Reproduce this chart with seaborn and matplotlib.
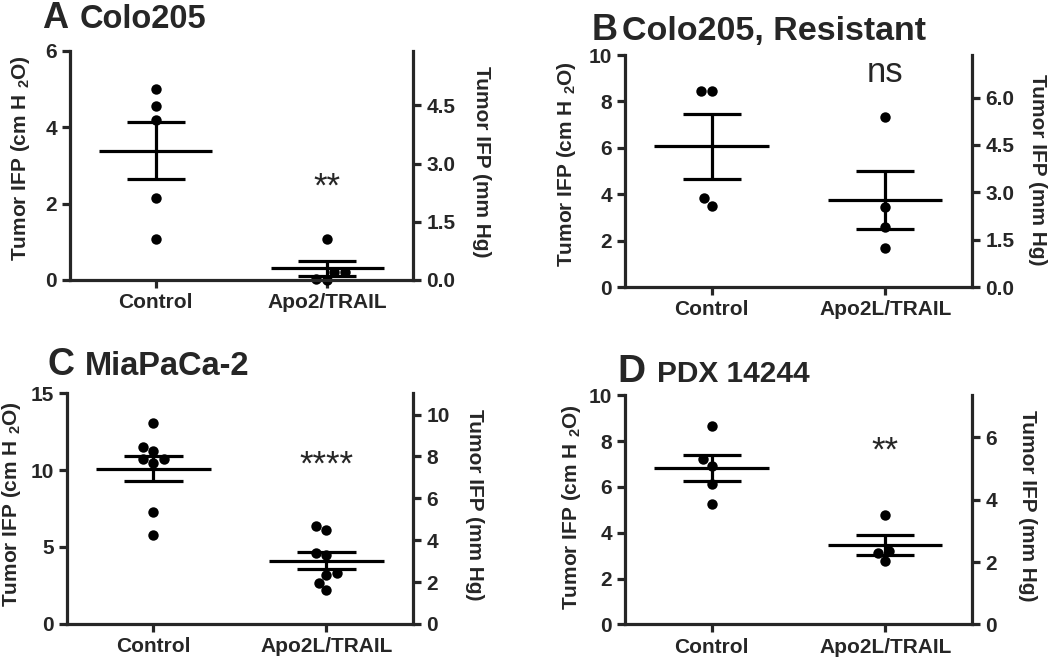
import numpy as np
import pandas as pd
import matplotlib
matplotlib.use("Agg")
import matplotlib.pyplot as plt
import seaborn as sns

# values, tumor IFP in cm H2O
a_control = [5.00, 4.55, 4.19, 2.15, 1.07]
a_treated = [1.07, 0.22, 0.22, 0.02, 0.00]
b_control = [8.46, 8.46, 3.50, 3.82]
b_treated = [7.34, 3.46, 2.60, 1.67]
c_control = [13.03, 11.52, 11.25, 10.69, 10.47, 10.69, 7.29, 5.80]
c_treated = [6.36, 6.10, 4.48, 4.60, 3.29, 3.18, 2.68, 2.20]
d_control = [8.66, 7.20, 6.91, 6.13, 5.24]
d_treated = [4.77, 3.21, 3.13, 2.78]

letters = ["A", "B", "C", "D"]
titles = ["Colo205", "Colo205, Resistant", "MiaPaCa-2", "PDX 14244"]
treat_names = ["Apo2/TRAIL", "Apo2L/TRAIL", "Apo2L/TRAIL", "Apo2L/TRAIL"]
signif = ["**", "ns", "****", "**"]
signif_base = [2.18, 8.85, 9.7, 7.13]   # text baseline, left-axis units

left_max = [6, 10, 15, 10]
left_ticks = [[0, 2, 4, 6], [0, 2, 4, 6, 8, 10], [0, 5, 10, 15], [0, 2, 4, 6, 8, 10]]
right_max = [5.9, 7.35, 11.03, 7.35]
right_ticks = [[0, 1.5, 3, 4.5], [0, 1.5, 3, 4.5, 6], [0, 2, 4, 6, 8, 10], [0, 2, 4, 6]]
right_fmt = ["{:.1f}", "{:.1f}", "{:.0f}", "{:.0f}"]

groups = [(a_control, a_treated), (b_control, b_treated),
          (c_control, c_treated), (d_control, d_treated)]

sns.set_style("ticks")
plt.rcParams["font.family"] = ["Liberation Sans", "DejaVu Sans"]
plt.rcParams["font.weight"] = "bold"
plt.rcParams["axes.labelweight"] = "bold"
plt.rcParams["mathtext.fontset"] = "custom"
plt.rcParams["mathtext.rm"] = "Liberation Sans:bold"
plt.rcParams["mathtext.it"] = "Liberation Sans:bold"
plt.rcParams["mathtext.bf"] = "Liberation Sans:bold"
plt.rcParams["mathtext.default"] = "rm"

fig = plt.figure(figsize=(10.5, 6.58), dpi=100)

positions = [[0.0667, 0.5745, 0.3267, 0.348],
             [0.5952, 0.5638, 0.3305, 0.3526],
             [0.0638, 0.0517, 0.3295, 0.351],
             [0.5952, 0.0512, 0.3305, 0.348]]
ylab_left = [(-0.111, 0.533), (-0.135, 0.532), (-0.127, 0.52), (-0.121, 0.51)]
ylab_right = [(1.172, 0.515), (1.161, 0.504), (1.150, 0.515), (1.133, 0.519)]
title_pos = [(0.040, 0.0762, 0.9574), (0.5638, 0.5924, 0.9392),
             (0.0457, 0.081, 0.4301), (0.5876, 0.6254, 0.420)]
letter_size = [26, 26, 27, 28]
title_size = [23.5, 24.5, 23.5, 21.5]

lw = 2.3
for i in range(4):
    ctrl, trt = groups[i]
    df = pd.DataFrame({
        "group": ["Control"] * len(ctrl) + [treat_names[i]] * len(trt),
        "ifp": ctrl + trt,
    })
    order = ["Control", treat_names[i]]

    ax = fig.add_axes(positions[i])
    sns.swarmplot(data=df, x="group", y="ifp", order=order, color="black",
                  size=7.5, linewidth=0, ax=ax, zorder=2, clip_on=False)

    stats = df.groupby("group")["ifp"].agg(["mean", "sem"]).loc[order]
    for k, (m, s) in enumerate(zip(stats["mean"], stats["sem"])):
        ax.hlines(m, k - 0.33, k + 0.33, color="black", lw=lw, zorder=3)
        ax.vlines(k, m - s, m + s, color="black", lw=lw, zorder=3)
        ax.hlines([m - s, m + s], k - 0.168, k + 0.168, color="black", lw=lw, zorder=3)

    ax.set_xlim(-0.5, 1.5)
    ax.set_ylim(0, left_max[i])
    ax.set_yticks(left_ticks[i])
    ax.set_xlabel("")
    ax.set_ylabel("Tumor IFP (cm H $_2$O)", fontsize=15)
    ax.yaxis.set_label_coords(*ylab_left[i])
    for side in ["top", "right"]:
        ax.spines[side].set_visible(False)
    for side in ["left", "bottom"]:
        ax.spines[side].set_linewidth(lw)
    ax.tick_params(width=lw, length=6, labelsize=15)

    ax.text(1, signif_base[i], signif[i], ha="center", va="baseline",
            fontsize=25, fontweight="normal")

    ax2 = ax.twinx()
    ax2.set_ylim(0, right_max[i])
    ax2.set_yticks(right_ticks[i])
    ax2.set_yticklabels([right_fmt[i].format(t) for t in right_ticks[i]])
    for side in ["top", "left", "bottom"]:
        ax2.spines[side].set_visible(False)
    ax2.spines["right"].set_linewidth(lw)
    ax2.tick_params(width=lw, length=6, labelsize=15)
    ax2.set_ylabel("Tumor IFP (mm Hg)", fontsize=15, rotation=270, va="bottom")
    ax2.yaxis.set_label_coords(*ylab_right[i])

    lx, tx, ty = title_pos[i]
    fig.text(lx, ty, letters[i], fontsize=letter_size[i], fontweight="bold", va="baseline")
    fig.text(tx, ty, titles[i], fontsize=title_size[i], fontweight="bold", va="baseline")

fig.savefig("out.png", dpi=100)
